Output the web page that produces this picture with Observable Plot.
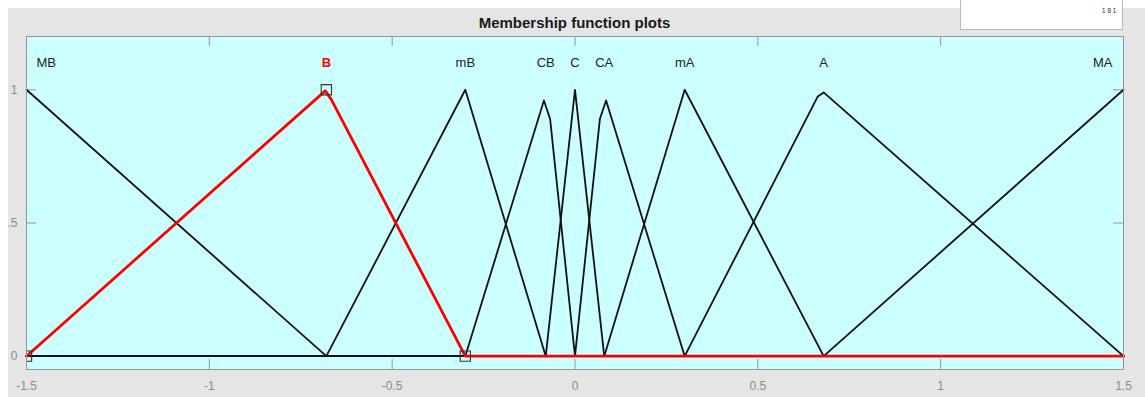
<!DOCTYPE html>
<html>
<head>
<meta charset="utf-8">
<script src="https://cdn.jsdelivr.net/npm/d3@7"></script>
<script src="https://cdn.jsdelivr.net/npm/@observablehq/plot@0.6"></script>
<style>
  html, body { margin: 0; padding: 0; background: #ffffff; }
  #fig { position: relative; width: 1145px; height: 397px; overflow: hidden; font-family: "Liberation Sans", Arial, sans-serif; }
  #panel { position: absolute; left: 8px; top: 8px; width: 1137px; height: 389px; background: #e5e5e5; }
  #title { position: absolute; left: 26px; width: 1097px; top: 15px; text-align: center; font-weight: bold; font-size: 15px; line-height: 15px; color: #1a1a1a; }
  #box { position: absolute; left: 960px; top: -2px; width: 161px; height: 30px; background: #ffffff; border: 1px solid #b9b9b9; }
  #boxtext { position: absolute; left: 1096px; width: 22px; top: 7px; text-align: right; font-size: 7px; line-height: 7px; letter-spacing: 1.5px; color: #3a3550; }
  #chart { position: absolute; left: 0; top: 0; }
</style>
</head>
<body>
<div id="fig">
  <div id="panel"></div>
  <div id="box"></div>
  <div id="boxtext">181</div>
  <div id="title">Membership function plots</div>
  <div id="chart"></div>
</div>
<script>
// Membership functions of the input variable, as polyline vertices [x, μ]
const MB = [[-1.5, 1], [-0.68, 0], [1.5, 0]];
const B  = [[-1.5, 0], [-0.683, 0.996], [-0.667, 0.965], [-0.3, 0], [1.5, 0]];
const mB = [[-1.5, 0], [-0.68, 0], [-0.3, 1], [-0.08, 0], [1.5, 0]];
const CB = [[-1.5, 0], [-0.3, 0], [-0.085, 0.96], [-0.068, 0.89], [0, 0], [1.5, 0]];
const C  = [[-1.5, 0], [-0.08, 0], [0, 1], [0.08, 0], [1.5, 0]];
const CA = [[-1.5, 0], [0, 0], [0.068, 0.89], [0.085, 0.96], [0.3, 0], [1.5, 0]];
const mA = [[-1.5, 0], [0.08, 0], [0.3, 1], [0.68, 0], [1.5, 0]];
const A  = [[-1.5, 0], [0.3, 0], [0.664, 0.975], [0.68, 0.99], [1.5, 0]];
const MA = [[-1.5, 0], [0.68, 0], [1.5, 1]];

// Names, their peak positions and the selected function
const mfNames = ["MB", "B", "mB", "CB", "C", "CA", "mA", "A", "MA"];
const mfPeaks = [-1.5, -0.68, -0.3, -0.08, 0, 0.08, 0.3, 0.68, 1.5];
const mfCurves = [MB, B, mB, CB, C, CA, mA, A, MA];
const selectedName = "B";
const selectedParamsX = [-1.5, -0.68, -0.3];
const selectedParamsY = [0, 1, 0];
const labelLevel = 1.1;

// Axis ticks
const xTicks = [-1.5, -1, -0.5, 0, 0.5, 1, 1.5];
const xTickLabels = ["-1.5", "-1", "-0.5", "0", "0.5", "1", "1.5"];
const yTicks = [0, 0.5, 1];
const yTickLabels = ["0", ".5", "1"];

const rows = [];
mfCurves.forEach((pts, i) => {
  pts.forEach(([x, y]) => rows.push({name: mfNames[i], x, y}));
});
const others = rows.filter(d => d.name !== selectedName);
const selected = rows.filter(d => d.name === selectedName);
const labels = mfNames.map((name, i) => ({name, x: mfPeaks[i], y: labelLevel}));
const squares = selectedParamsX.map((x, i) => ({x, y: selectedParamsY[i]}));

const W = 1145, H = 397;
const mL = 26, mR = 22, mT = 36, mB_ = 28;
const innerW = W - mL - mR, innerH = H - mT - mB_;
const tickLen = 10;
const gridGray = "#969696";

const chart = Plot.plot({
  width: W,
  height: H,
  marginLeft: mL,
  marginRight: mR,
  marginTop: mT,
  marginBottom: mB_,
  style: {background: "transparent", fontFamily: "'Liberation Sans', Arial, sans-serif", fontSize: "12px"},
  x: {domain: [-1.5, 1.5]},
  y: {domain: [-0.05, 1.2]},
  marks: [
    Plot.frame({fill: "#ccffff", stroke: null}),
    // inward ticks on all four sides
    Plot.ruleX(xTicks, {x: d => d, insetTop: innerH - tickLen, stroke: gridGray}),
    Plot.ruleX(xTicks, {x: d => d, insetBottom: innerH - tickLen, stroke: gridGray}),
    Plot.ruleY(yTicks, {y: d => d, insetRight: innerW - tickLen, stroke: gridGray}),
    Plot.ruleY(yTicks, {y: d => d, insetLeft: innerW - tickLen, stroke: gridGray}),
    Plot.axisX(xTicks, {anchor: "bottom", tickSize: 0, tickPadding: 12, label: null,
      tickFormat: d => xTickLabels[xTicks.indexOf(d)], fill: "#8c8c8c", fontSize: 12}),
    Plot.axisY(yTicks, {anchor: "left", tickSize: 0, tickPadding: 9, label: null,
      tickFormat: d => yTickLabels[yTicks.indexOf(d)], fill: "#8c8c8c", fontSize: 12}),
    Plot.line(others, {x: "x", y: "y", z: "name", stroke: "#111", strokeWidth: 1.8}),
    Plot.line(selected, {x: "x", y: "y", stroke: "#ff0000", strokeWidth: 2.8}),
    Plot.dot(squares, {x: "x", y: "y", symbol: "square", r: 5.8, stroke: "#333", strokeWidth: 1.1, fill: "none", clip: true}),
    // function names
    Plot.text(labels.filter(d => d.name !== "MB" && d.name !== "MA" && d.name !== selectedName),
      {x: "x", y: "y", text: "name", fill: "#222", fontSize: 13}),
    Plot.text(labels.filter(d => d.name === selectedName),
      {x: "x", y: "y", text: "name", fill: "#ff0000", fontSize: 13, fontWeight: "bold"}),
    Plot.text(labels.filter(d => d.name === "MB"),
      {x: "x", y: "y", text: "name", fill: "#222", fontSize: 13, textAnchor: "start", dx: 10}),
    Plot.text(labels.filter(d => d.name === "MA"),
      {x: "x", y: "y", text: "name", fill: "#222", fontSize: 13, textAnchor: "end", dx: -11}),
    Plot.frame({stroke: gridGray, strokeWidth: 1})
  ]
});
document.getElementById("chart").appendChild(chart);
</script>
</body>
</html>
